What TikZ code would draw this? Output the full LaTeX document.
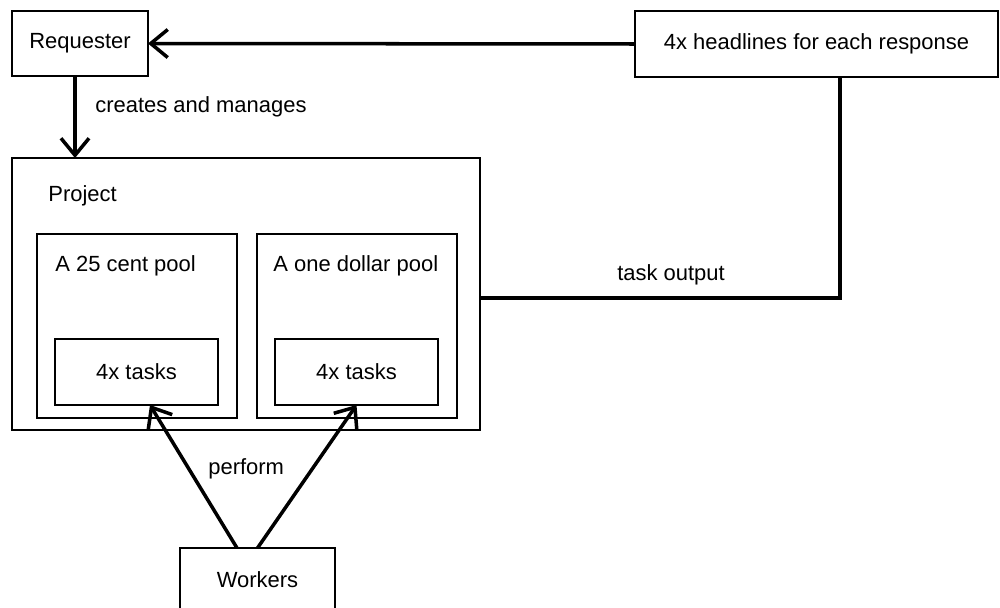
\documentclass[tikz,border=0pt]{standalone}
\usepackage{fontspec}
\setmainfont{Liberation Sans}
\usetikzlibrary{arrows.meta}

\tikzset{
  box/.style={draw, line width=0.7pt, inner sep=0pt, outer sep=0pt},
  txt/.style={anchor=west, inner sep=0pt, font=\fontsize{12.5}{15}\selectfont},
  link/.style={line width=2pt},
  arr/.style={link, -{Straight Barb[length=3.4mm, width=5.6mm, line width=2pt]}}
}

\begin{document}
\begin{tikzpicture}[x=0.02cm, y=-0.02cm, font=\fontsize{12.5}{15}\selectfont]
  \useasboundingbox (0,0) rectangle (1000,608);

  % Caixas de cima
  \node[box, minimum width=2.72cm, minimum height=1.3cm] (req) at (80,43.5) {Requester};
  \node[box, minimum width=7.26cm, minimum height=1.32cm] (head) at (816.5,44) {4x headlines for each response};

  % Projeto e pools
  \node[box, minimum width=9.36cm, minimum height=5.44cm] (proj) at (246,294) {};
  \node[txt] (projlbl) at (48,196) {Project};
  \node[box, minimum width=4cm, minimum height=3.68cm] (pool1) at (137,326) {};
  \node[box, minimum width=4cm, minimum height=3.68cm] (pool2) at (357,326) {};
  \node[txt] (pool1lbl) at (55,266) {A 25 cent pool};
  \node[txt] (pool2lbl) at (273,266) {A one dollar pool};

  % Tarefas
  \node[box, minimum width=3.26cm, minimum height=1.32cm] (task1) at (136.5,372) {4x tasks};
  \node[box, minimum width=3.26cm, minimum height=1.32cm] (task2) at (356.5,372) {4x tasks};

  % Trabalhadores
  \node[box, minimum width=3.1cm, minimum height=1.28cm] (wrk) at (257.5,580) {Workers};

  % Setas
  \draw[arr] (head.west) -- (req.east);
  \draw[arr] ([xshift=-0.1cm]req.south) -- ([xshift=-0.1cm]req.south |- proj.north);
  \node[txt] (creates) at (95,107) {creates and manages};
  \draw[link] ([yshift=-0.08cm]proj.east) -| ([xshift=0.47cm]head.south);
  \node[txt] (output) at (617,275) {task output};
  \draw[arr] ([xshift=-0.41cm]wrk.north) -- ([xshift=0.27cm]task1.south);
  \draw[arr] (wrk.north) -- (task2.south);
  \node[txt] (perform) at (208,469) {perform};

\end{tikzpicture}
\end{document}
